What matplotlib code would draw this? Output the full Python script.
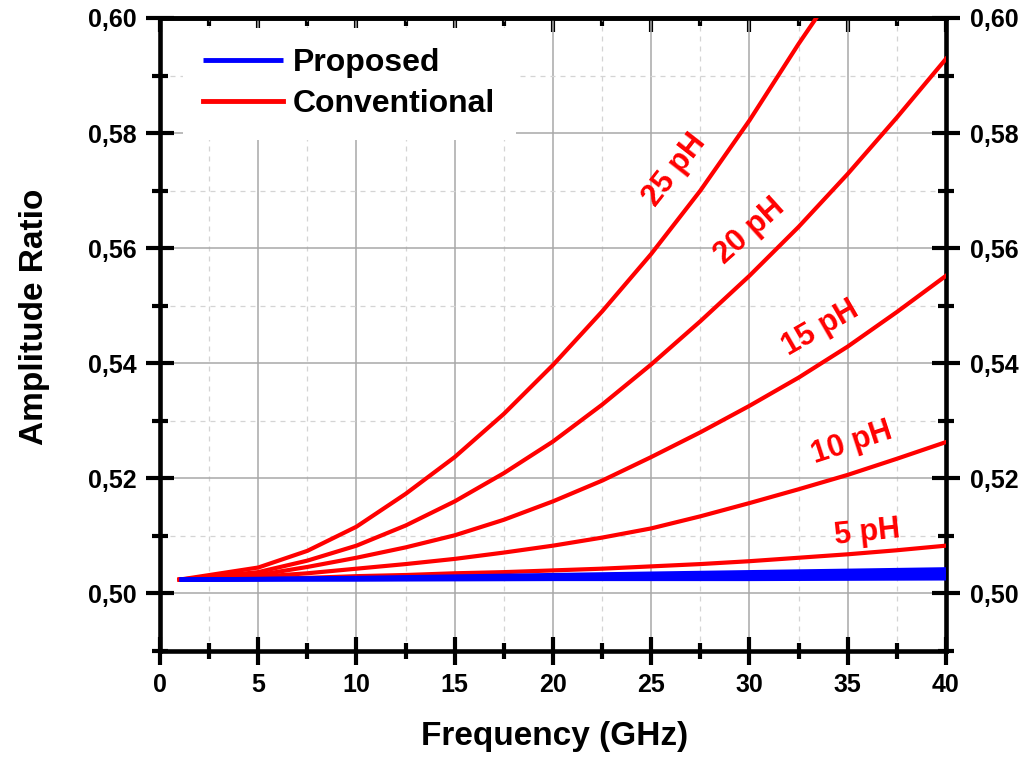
import matplotlib
matplotlib.use('Agg')
import matplotlib.pyplot as plt
from matplotlib.ticker import MultipleLocator, FuncFormatter

plt.rcParams['font.family'] = ['Liberation Sans', 'DejaVu Sans']
plt.rcParams['font.weight'] = 'bold'

# frequency samples (GHz)
freq = [1, 5, 7.5, 10, 12.5, 15, 17.5, 20, 22.5, 25, 27.5, 30, 32.5, 35, 37.5, 40]

# conventional structure, one curve per inductance
freq_25 = [1, 5, 7.5, 10, 12.5, 15, 17.5, 20, 22.5, 25, 27.5, 30, 32.5, 33.4]
conv_25 = [0.5024, 0.5045, 0.5074, 0.5116, 0.5173, 0.5237, 0.5312, 0.5397,
           0.5490, 0.5590, 0.5700, 0.5822, 0.5955, 0.6000]
conv_20 = [0.5024, 0.5037, 0.5057, 0.5083, 0.5118, 0.5160, 0.5209, 0.5264,
           0.5328, 0.5398, 0.5473, 0.5552, 0.5637, 0.5729, 0.5827, 0.5929]
conv_15 = [0.5024, 0.5032, 0.5046, 0.5062, 0.5080, 0.5101, 0.5128, 0.5160,
           0.5196, 0.5237, 0.5280, 0.5326, 0.5375, 0.5429, 0.5489, 0.5552]
conv_10 = [0.5024, 0.5029, 0.5035, 0.5043, 0.5051, 0.5060, 0.5071, 0.5083,
           0.5097, 0.5113, 0.5134, 0.5157, 0.5181, 0.5206, 0.5234, 0.5263]
conv_5 = [0.5024, 0.5025, 0.5027, 0.5030, 0.5032, 0.5035, 0.5037, 0.5040,
          0.5043, 0.5047, 0.5051, 0.5056, 0.5062, 0.5068, 0.5075, 0.5083]

# proposed structure, same inductances
freq_prop = [1, 10, 20, 30, 40]
prop = [
    [0.5024, 0.5024, 0.5025, 0.5025, 0.5026],
    [0.5024, 0.5025, 0.5026, 0.5028, 0.5030],
    [0.5024, 0.5026, 0.5028, 0.5031, 0.5034],
    [0.5024, 0.5026, 0.5030, 0.5034, 0.5038],
    [0.5024, 0.5027, 0.5032, 0.5037, 0.5042],
]

labels = ['25 pH', '20 pH', '15 pH', '10 pH', '5 pH']
label_x = [26.2, 30.0, 33.6, 35.2, 36.0]
label_y = [0.5736, 0.5630, 0.5461, 0.5261, 0.5106]
label_rot = [52, 42, 30, 18, 6]

fig = plt.figure(figsize=(10.27, 7.58), dpi=100)
ax = fig.add_axes([0.1558, 0.1412, 0.7653, 0.8351])

red = '#ff0000'
blue = '#0000ff'
lw = 3.0

for i, p in enumerate(prop):
    ax.plot(freq_prop, p, color=blue, lw=lw, solid_capstyle='butt',
            label='Proposed' if i == 0 else None, zorder=4)

ax.plot(freq_25, conv_25, color=red, lw=lw, label='Conventional', zorder=3)
for c in [conv_20, conv_15, conv_10, conv_5]:
    ax.plot(freq, c, color=red, lw=lw, zorder=3)

for t, x, y, r in zip(labels, label_x, label_y, label_rot):
    ax.text(x, y, t, color=red, fontsize=22, fontweight='bold', rotation=r,
            rotation_mode='anchor', ha='center', va='center')

ax.set_xlim(0, 40)
ax.set_ylim(0.49, 0.60)
ax.xaxis.set_major_locator(MultipleLocator(5))
ax.xaxis.set_minor_locator(MultipleLocator(2.5))
ax.yaxis.set_major_locator(MultipleLocator(0.02))
ax.yaxis.set_minor_locator(MultipleLocator(0.01))
ax.yaxis.set_major_formatter(FuncFormatter(lambda v, pos: f'{v:.2f}'.replace('.', ',')))

ax.grid(True, which='major', color='#a8a8a8', lw=1.1, ls='-', zorder=0)
ax.grid(True, which='minor', color='#d4d4d4', lw=0.9, ls=(0, (4, 4)), zorder=0)
ax.set_axisbelow(True)

for s in ax.spines.values():
    s.set_linewidth(3.3)

ax.tick_params(which='major', direction='inout', length=20, width=3,
               labelsize=18, bottom=True, left=True, right=True, top=False,
               labelright=True)
ax.tick_params(axis='y', which='major', pad=7)
ax.tick_params(axis='x', which='major', pad=6)
ax.tick_params(which='minor', direction='inout', length=11, width=3,
               bottom=True, left=True, right=True, top=False)

# inward ticks on top edge
top = ax.secondary_xaxis('top')
top.xaxis.set_major_locator(MultipleLocator(5))
top.xaxis.set_minor_locator(MultipleLocator(2.5))
top.tick_params(which='major', direction='in', length=10, width=3, labeltop=False)
top.tick_params(which='minor', direction='in', length=6, width=3)
top.spines['top'].set_linewidth(3.3)

for lab in ax.get_xticklabels() + ax.get_yticklabels():
    lab.set_fontweight('bold')

ax.set_xlabel('Frequency (GHz)', fontsize=24, fontweight='bold')
ax.set_ylabel('Amplitude Ratio', fontsize=24, fontweight='bold')
ax.xaxis.set_label_coords(0.5025, -0.110)
ax.yaxis.set_label_coords(-0.140, 0.528)

leg = ax.legend(loc='upper left', bbox_to_anchor=(0.0165, 1.0), fontsize=23,
                frameon=True, facecolor='white', edgecolor='none',
                framealpha=1.0, handlelength=2.5, handletextpad=0.3,
                labelspacing=0.35, borderaxespad=0.3, borderpad=0.65)
for t in leg.get_texts():
    t.set_fontweight('bold')
for h in leg.get_lines():
    h.set_linewidth(3.5)

fig.savefig('out.png', dpi=100)
